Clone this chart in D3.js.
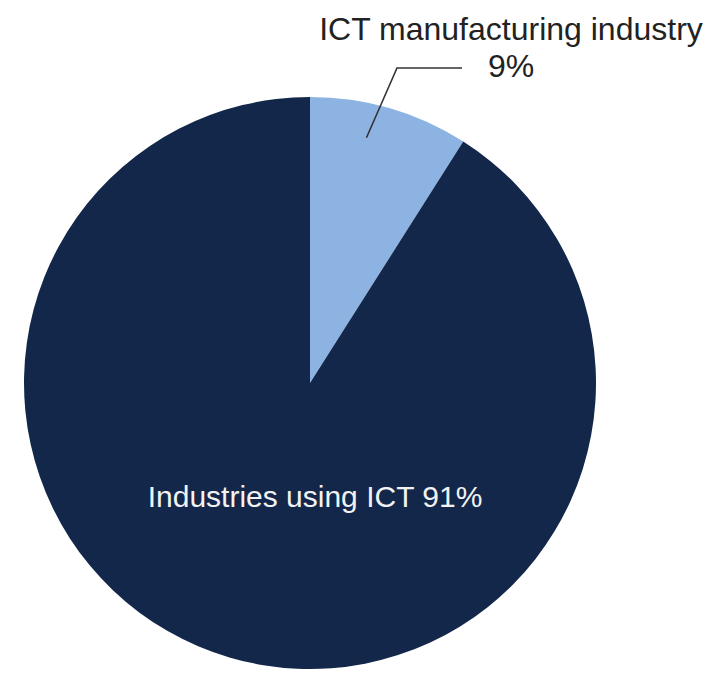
<!DOCTYPE html>
<html>
<head>
<meta charset="utf-8">
<script src="https://cdn.jsdelivr.net/npm/d3@7"></script>
<style>
  html, body { margin: 0; padding: 0; background: #ffffff; }
  svg { display: block; }
</style>
</head>
<body>
<svg id="chart" width="708" height="673"></svg>
<script>
// Share of ICT contribution by industry group
const categories = ["ICT manufacturing industry", "Industries using ICT"];
const shares = [9, 91];
const colors = ["#8db3e2", "#12274a"];

const svg = d3.select("#chart");
const cx = 310, cy = 383, radius = 286;

const pie = d3.pie().sort(null).value(d => d.value).startAngle(0).endAngle(2 * Math.PI);
const arcs = pie(categories.map((c, i) => ({ name: c, value: shares[i] })));
const arc = d3.arc().innerRadius(0).outerRadius(radius);

const g = svg.append("g").attr("transform", `translate(${cx},${cy})`);
g.selectAll("path.slice")
  .data(arcs)
  .join("path")
  .attr("class", "slice")
  .attr("d", arc)
  .attr("fill", (d, i) => colors[i]);

// Outside label for the small slice, with a leader line
const small = arcs[0];
const anchorAngle = small.startAngle + (small.endAngle - small.startAngle) * 0.4;
const anchor = d3.pointRadial(anchorAngle, radius * 0.88);
const elbow = [87, -315];
const lineEnd = [152, -315];
g.append("path")
  .attr("d", d3.line()([anchor, elbow, lineEnd]))
  .attr("fill", "none")
  .attr("stroke", "#333333")
  .attr("stroke-width", 1.6);

const font = "'Liberation Sans', Arial, sans-serif";
svg.append("text")
  .attr("x", 511).attr("y", 40)
  .attr("text-anchor", "middle")
  .attr("font-family", font)
  .attr("font-size", 32)
  .attr("fill", "#222222")
  .text(categories[0]);
svg.append("text")
  .attr("x", 511).attr("y", 77)
  .attr("text-anchor", "middle")
  .attr("font-family", font)
  .attr("font-size", 32)
  .attr("fill", "#222222")
  .text(shares[0] + "%");

// Inside label for the large slice
svg.append("text")
  .attr("x", 315).attr("y", 507)
  .attr("text-anchor", "middle")
  .attr("font-family", font)
  .attr("font-size", 30)
  .attr("fill", "#f2f2f2")
  .text(categories[1] + " " + shares[1] + "%");
</script>
</body>
</html>
